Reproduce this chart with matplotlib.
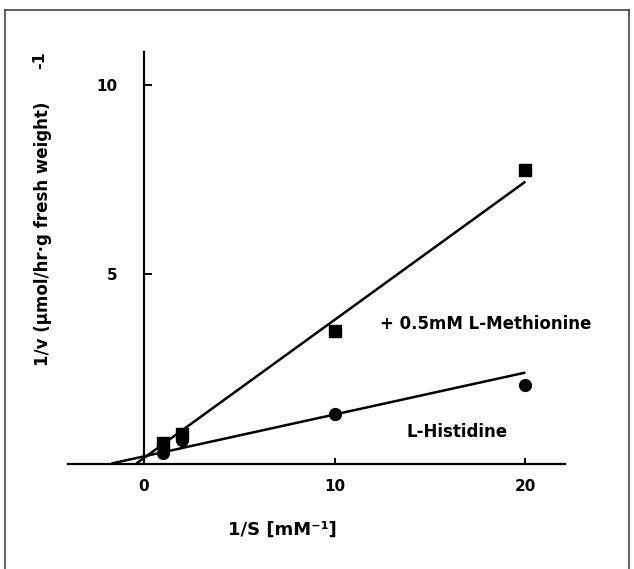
import matplotlib
matplotlib.use("Agg")
import matplotlib.pyplot as plt
from matplotlib.lines import Line2D

# ---- data ----
inv_s = [1, 2, 10, 20]
histidine = [0.27, 0.63, 1.30, 2.08]
methionine = [0.54, 0.77, 3.49, 7.76]

his_line_x = [-1.7, 20]
his_line_y = [0.0, 2.40]
met_line_x = [-0.4, 20]
met_line_y = [0.0, 7.44]

xticks = [0, 10, 20]
yticks = [5, 10]

FONT = "DejaVu Sans"

fig = plt.figure(figsize=(6.34, 5.69), dpi=100)
ax = fig.add_axes([0.1073, 0.1854, 0.7839, 0.7237])
ax.set_xlim(-3.98, 22.08)
ax.set_ylim(0, 10.87)

ax.plot(his_line_x, his_line_y, color="black", lw=1.8, solid_capstyle="butt")
ax.plot(met_line_x, met_line_y, color="black", lw=1.8, solid_capstyle="butt")
ax.plot(inv_s, methionine, ls="none", marker="s", ms=8.5, color="black")
ax.plot(inv_s, histidine, ls="none", marker="o", ms=8.5, color="black")

for s in ["top", "right"]:
    ax.spines[s].set_visible(False)
ax.spines["left"].set_position(("data", 0))
ax.spines["bottom"].set_position(("data", 0))
ax.spines["left"].set_linewidth(1.6)
ax.spines["bottom"].set_linewidth(1.6)

ax.set_xticks(xticks)
ax.set_yticks(yticks)
ax.set_xticklabels([str(v) for v in xticks], fontfamily=FONT, fontweight="bold", fontsize=11)
ax.set_yticklabels([str(v) for v in yticks], fontfamily=FONT, fontweight="bold", fontsize=11)
ax.tick_params(axis="x", direction="in", length=4, width=1.4, pad=11)
ax.tick_params(axis="y", direction="in", length=6, width=1.4, pad=19)

# annotations
fig.text(380 / 634, 1 - 324 / 569, "+ 0.5mM L-Methionine",
         fontfamily=FONT, fontweight="bold", fontsize=12, ha="left", va="center")
fig.text(407 / 634, 1 - 432 / 569, "L-Histidine",
         fontfamily=FONT, fontweight="bold", fontsize=12, ha="left", va="center")

# axis labels
fig.text(282 / 634, 1 - 530 / 569, "1/S [mM\u207b\u00b9]", fontfamily=FONT,
         fontweight="bold", fontsize=13, ha="center", va="center")
fig.text(43 / 634, 1 - 234 / 569, "1/v (\u00b5mol/hr\u00b7g fresh weight)", fontfamily=FONT,
         fontweight="bold", fontsize=12, ha="center", va="center", rotation=90)
fig.text(40 / 634, 1 - 60 / 569, "-1", fontfamily=FONT,
         fontweight="bold", fontsize=11.5, ha="center", va="center", rotation=90)

# frame around the figure
for (x0, y0, x1, y1) in [(5, 10, 629, 10), (5, 10, 5, 569), (629, 10, 629, 569)]:
    fig.add_artist(Line2D([x0 / 634, x1 / 634], [1 - y0 / 569, 1 - y1 / 569],
                          transform=fig.transFigure, color="#444444", lw=1.2))

fig.savefig("out.png", dpi=100)
